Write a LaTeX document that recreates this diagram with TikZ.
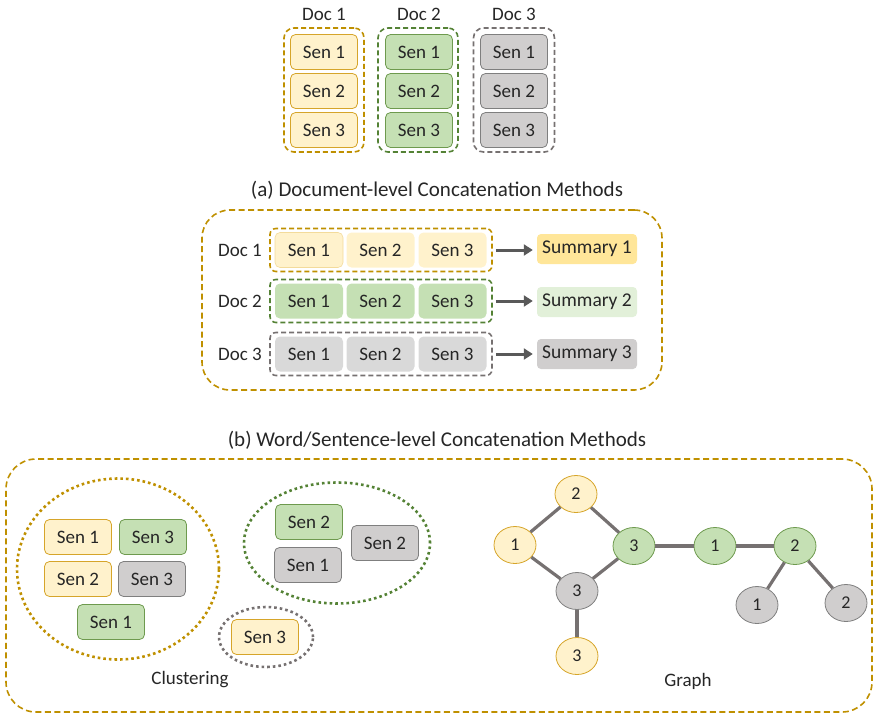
\documentclass[tikz,border=0pt]{standalone}
\usepackage{fontspec}
\setmainfont{Carlito}
\usetikzlibrary{shapes.geometric,arrows.meta}
\definecolor{gold}{HTML}{BF9000}
\definecolor{ylfill}{HTML}{FFF2CC}
\definecolor{ylline}{HTML}{D6A52A}
\definecolor{grfill}{HTML}{C5E0B4}
\definecolor{grline}{HTML}{548235}
\definecolor{grsen}{HTML}{6E9A4E}
\definecolor{gyfill}{HTML}{D0CECE}
\definecolor{gyline}{HTML}{7F7F7F}
\definecolor{gydash}{HTML}{767171}
\definecolor{rowgy}{HTML}{D9D9D9}
\definecolor{sumA}{HTML}{FFE699}
\definecolor{sumB}{HTML}{E2F0D9}
\definecolor{edgec}{HTML}{767171}
\definecolor{arrc}{HTML}{595959}
\definecolor{txt}{HTML}{262626}
\begin{document}
\begin{tikzpicture}[x=1pt,y=-1pt,
  every node/.style={text=txt},
  font=\fontsize{19}{22}\selectfont,
  caption/.style={font=\fontsize{21}{24}\selectfont},
  senbox/.style={rectangle, rounded corners=5pt, minimum width=67pt, minimum height=35pt, inner sep=0pt, line width=0.8pt},
  ysen/.style={senbox, draw=ylline, fill=ylfill},
  gsen/.style={senbox, draw=grsen, fill=grfill},
  hsen/.style={senbox, draw=gyline, fill=gyfill},
  rowsen/.style={rectangle, rounded corners=5pt, minimum width=68pt, minimum height=35pt, inner sep=0pt},
  dbox/.style={rectangle, rounded corners=10pt, line width=1.6pt, dash pattern=on 5pt off 3pt, inner sep=0pt},
  rbox/.style={rectangle, rounded corners=6pt, line width=1.6pt, dash pattern=on 5pt off 3pt, inner sep=0pt, minimum width=222pt, minimum height=43pt},
  sumbox/.style={rectangle, rounded corners=4pt, minimum width=100pt, minimum height=30pt, inner sep=0pt, font=\fontsize{19.5}{22}\selectfont},
  bigframe/.style={rectangle, draw=gold, line width=1.6pt, dash pattern=on 6pt off 3.5pt, inner sep=0pt},
  dotell/.style={ellipse, line width=2.6pt, dash pattern=on 2.6pt off 3pt, inner sep=0pt},
  gnode/.style={ellipse, minimum width=42pt, minimum height=37pt, inner sep=0pt, line width=0.8pt, font=\fontsize{18}{20}\selectfont},
  gy/.style={gnode, draw=ylline, fill=ylfill},
  gg/.style={gnode, draw=grsen, fill=grfill},
  gh/.style={gnode, draw=gyline, fill=gyfill},
  gedge/.style={draw=edgec, line width=3.2pt},
  arr/.style={draw=arrc, line width=3pt, -{Triangle[length=9pt,width=11pt]}}
]
\useasboundingbox (0,0) rectangle (874,715);

% ---------- top ----------
\node (t1) at (324,14) {Doc 1};
\node (t2) at (419,14) {Doc 2};
\node (t3) at (514,14) {Doc 3};
\node[dbox, draw=gold, minimum width=80pt, minimum height=124pt] (c1) at (324,90) {};
\node[dbox, draw=grline, minimum width=80pt, minimum height=124pt] (c2) at (418,90) {};
\node[dbox, draw=gydash, minimum width=81pt, minimum height=124pt] (c3) at (514,90) {};
\node[ysen] (a11) at (324,52) {Sen 1};
\node[ysen] (a12) at (324,91) {Sen 2};
\node[ysen] (a13) at (324,130) {Sen 3};
\node[gsen] (a21) at (419,52) {Sen 1};
\node[gsen] (a22) at (419,91) {Sen 2};
\node[gsen] (a23) at (419,130) {Sen 3};
\node[hsen] (a31) at (514,52) {Sen 1};
\node[hsen] (a32) at (514,91) {Sen 2};
\node[hsen] (a33) at (514,130) {Sen 3};

% ---------- (a) ----------
\node[caption] (capa) at (437,190) {(a) Document-level Concatenation Methods};
\node[bigframe, rounded corners=28pt, minimum width=460pt, minimum height=180pt] (fa) at (432,300) {};

\node (l1) at (240,250) {Doc 1};
\node (l2) at (240,301) {Doc 2};
\node (l3) at (240,354) {Doc 3};
\node[rbox, draw=gold] (r1) at (381,250) {};
\node[rbox, draw=grline] (r2) at (381,301) {};
\node[rbox, draw=gydash] (r3) at (381,354) {};
\node[rowsen, fill=ylfill, draw=ylfill!70!ylline, line width=0.6pt] (b11) at (309,250) {Sen 1};
\node[rowsen, fill=ylfill] (b12) at (380.5,250) {Sen 2};
\node[rowsen, fill=ylfill] (b13) at (452.5,250) {Sen 3};
\node[rowsen, fill=grfill] (b21) at (309,301) {Sen 1};
\node[rowsen, fill=grfill] (b22) at (380.5,301) {Sen 2};
\node[rowsen, fill=grfill] (b23) at (452.5,301) {Sen 3};
\node[rowsen, fill=rowgy] (b31) at (309,354) {Sen 1};
\node[rowsen, fill=rowgy] (b32) at (380.5,354) {Sen 2};
\node[rowsen, fill=rowgy] (b33) at (452.5,354) {Sen 3};
\node[sumbox, fill=sumA] (s1) at (587,249) {Summary 1};
\node[sumbox, fill=sumB] (s2) at (587,302) {Summary 2};
\node[sumbox, fill=gyfill] (s3) at (587,354) {Summary 3};
\draw[arr] ([xshift=3pt]r1.east) -- ([xshift=-4pt]s1.west |- r1.east);
\draw[arr] ([xshift=3pt]r2.east) -- ([xshift=-4pt]s2.west |- r2.east);
\draw[arr] ([xshift=3pt]r3.east) -- ([xshift=-4pt]s3.west |- r3.east);

% ---------- (b) ----------
\node[caption] (capb) at (437,440) {(b) Word/Sentence-level Concatenation Methods};
\node[bigframe, rounded corners=30pt, minimum width=866pt, minimum height=253pt] (fb) at (439,585.5) {};

% clustering
\node[dotell, draw=gold, minimum width=202pt, minimum height=181pt] (e1) at (118,569) {};
\node[dotell, draw=grline, minimum width=186pt, minimum height=121pt] (e2) at (337,543) {};
\node[dotell, draw=gydash, minimum width=94pt, minimum height=60pt] (e3) at (266,637) {};
\node[ysen] (k1) at (78,537) {Sen 1};
\node[gsen] (k2) at (153,537) {Sen 3};
\node[ysen] (k3) at (78,579) {Sen 2};
\node[hsen] (k4) at (152,579) {Sen 3};
\node[gsen] (k5) at (111,622) {Sen 1};
\node[gsen] (k6) at (309,522) {Sen 2};
\node[hsen] (k7) at (308,565) {Sen 1};
\node[hsen] (k8) at (385,543) {Sen 2};
\node[ysen] (k9) at (265,637) {Sen 3};
\node (clu) at (190,680) {Clustering};

% graph
\node[gy] (n2) at (576,494) {2};
\node[gy] (n1) at (515,545) {1};
\node[gg] (g3) at (634,546) {3};
\node[gh] (h3) at (577,591) {3};
\node[gy] (y3) at (577,656) {3};
\node[gg] (g1) at (715,546) {1};
\node[gg] (g2) at (795,546) {2};
\node[gh] (h1) at (757,605) {1};
\node[gh] (h2) at (846,603) {2};
\draw[gedge] (n1) -- (n2);
\draw[gedge] (n2) -- (g3);
\draw[gedge] (n1) -- (h3);
\draw[gedge] (h3) -- (g3);
\draw[gedge] (h3) -- (y3);
\draw[gedge] (g3) -- (g1);
\draw[gedge] (g1) -- (g2);
\draw[gedge] (g2) -- (h1);
\draw[gedge] (g2) -- (h2);
\node (gra) at (688,681) {Graph};
\end{tikzpicture}
\end{document}
